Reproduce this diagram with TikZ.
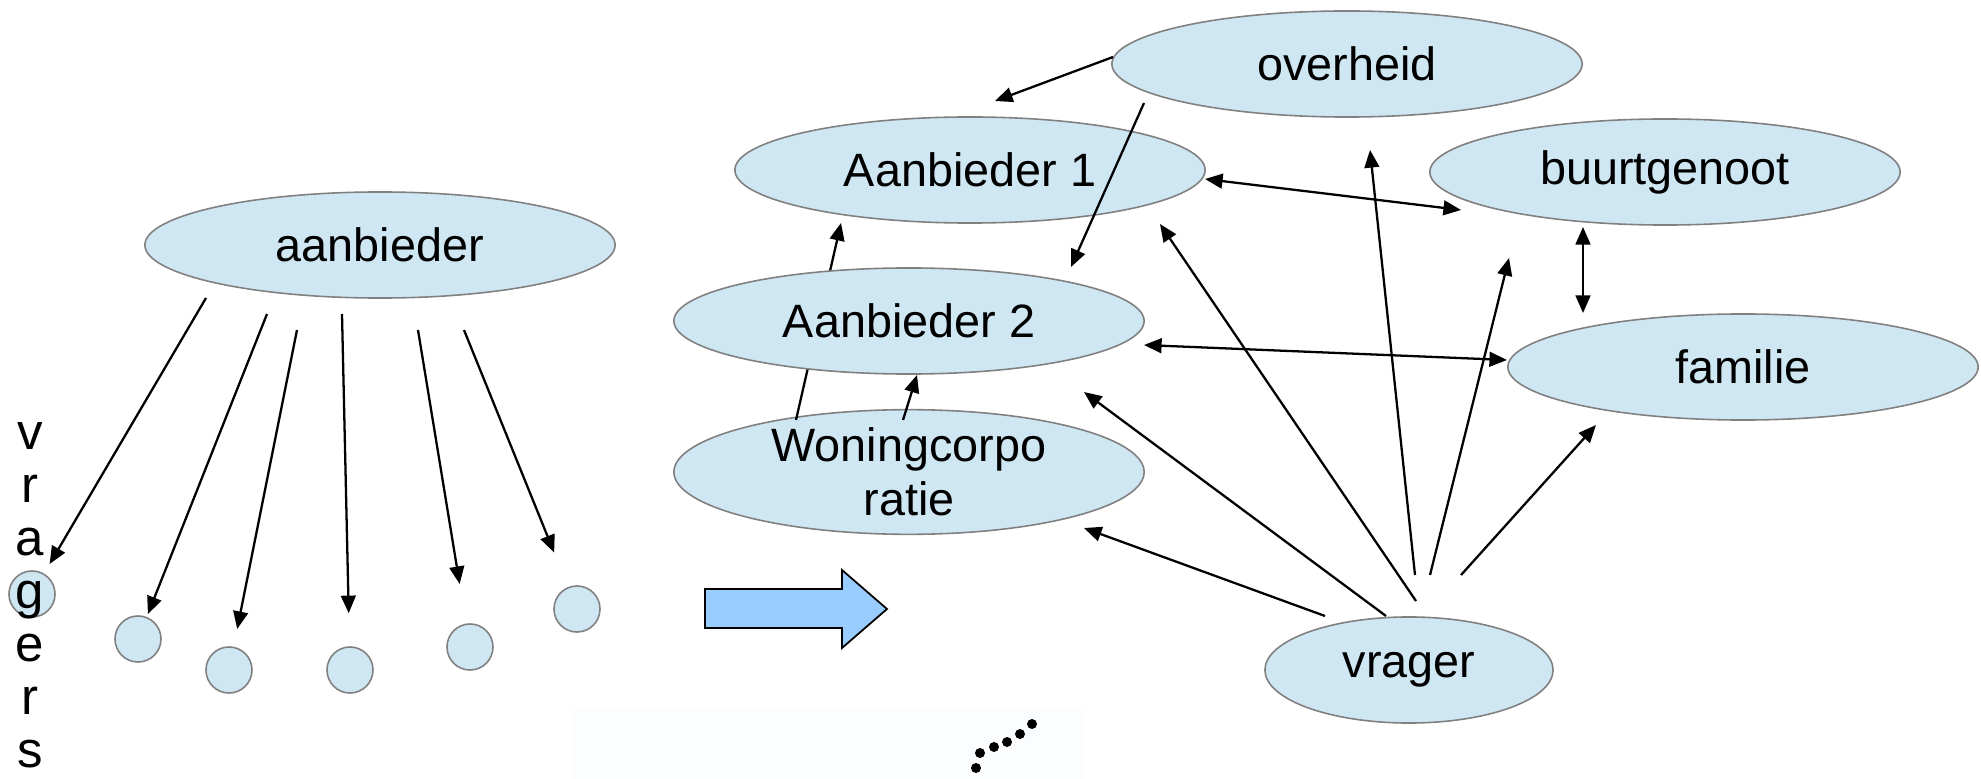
\documentclass[tikz,border=0pt]{standalone}
\usepackage{fontspec}
\setmainfont{Liberation Sans}
\usetikzlibrary{arrows.meta}
\usetikzlibrary{shapes.geometric}

\definecolor{ellipsblauw}{RGB}{207,230,243}
\definecolor{randgrijs}{RGB}{128,128,128}
\definecolor{pijlblauw}{RGB}{153,204,255}
\definecolor{vaag}{RGB}{251,253,254}

\tikzset{
    bel/.style={ellipse, draw=randgrijs, line width=0.45pt, fill=ellipsblauw,
        minimum width=4.7cm, minimum height=1.06cm, inner sep=0pt,
        font=\fontsize{13.3}{15.3}\selectfont},
    bolletje/.style={circle, draw=randgrijs, line width=0.45pt, fill=ellipsblauw,
        minimum size=0.46cm, inner sep=0pt},
    pijl/.style={-{Triangle[length=5pt,width=4.2pt]}, line width=0.65pt},
    tweepijl/.style={{Triangle[length=5pt,width=4.2pt]}-{Triangle[length=5pt,width=4.2pt]}, line width=0.65pt}
}

\begin{document}
\begin{tikzpicture}[x=0.01cm, y=-0.01cm]
    \useasboundingbox (0,0) rectangle (1981,779);

    % faint picture at the bottom
    \fill[vaag] (570,708) rectangle (1083,779);
    \foreach \x/\y in {1032/724, 1020/734, 1007/742, 994/747, 980/753, 976/768}
        \fill (\x,\y) circle (5);

    % Aanbieder with vragers (left)
    \node[bel] (aanb) at (380,245) {aanbieder};
    \foreach \x/\y [count=\i] in {32/594, 138/639, 229/670, 350/670, 470/647, 577/609}
        \node[bolletje] (c\i) at (\x,\y) {};
    \foreach \ch [count=\i] in {v,r,a,g,e,r,s}
        \node[anchor=base, inner sep=0pt, font=\fontsize{14.5}{16}\selectfont] (letter\i) at (30,{449+53*(\i-1)}) {\ch};
    \foreach \dx/\dy/\i/\g in {-174/53/1/0.11, -113/69/2/0.03, -83/85/3/0.18, -38/69/4/0.33, 38/85/5/0.40, 84/85/6/0.37}
        \draw[pijl, shorten >=\g cm] ([shift={(\dx,\dy)}]aanb.center) -- (c\i);

    % Block arrow
    \draw[line width=0.5pt, fill=pijlblauw] (705,589) -- (842,589) -- (842,570) -- (887,609)
        -- (842,648) -- (842,628) -- (705,628) -- cycle;

    % Network (right)
    \node[bel] (ov) at (1347,64) {overheid};
    \node[bel] (a1) at (970,170) {Aanbieder 1};
    \node[bel] (bg) at (1665,172) {buurtgenoot};
    \node[bel] (fam) at (1743,367) {familie};
    \node[bel, align=center] (wc) at (909,472) {Woningcorpo\\ratie};
    \node[bel, minimum width=2.88cm] (vr) at (1409,670) {vrager};
    % runs behind Aanbieder 2
    \draw[pijl] ([shift={(-113,-52)}]wc.center) -- ([shift={(-129,53)}]a1.center);
    \node[bel] (a2) at (909,321) {Aanbieder 2};

    \draw[pijl] ([shift={(-234,-7)}]ov.center) -- ([shift={(25,-69)}]a1.center);
    \draw[pijl] ([shift={(-203,39)}]ov.center) -- ([shift={(162,-54)}]a2.center);
    \draw[pijl] ([shift={(-6,-52)}]wc.center) -- ([shift={(8,54)}]a2.center);
    \draw[tweepijl] ([shift={(235,9)}]a1.center) -- ([shift={(-204,38)}]bg.center);
    \draw[tweepijl] ([shift={(235,24)}]a2.center) -- ([shift={(-236,-7)}]fam.center);
    \draw[tweepijl] ([shift={(-82,55)}]bg.center) -- ([shift={(-160,-54)}]fam.center);

    % from vrager
    \foreach \dx/\dy/\doel/\ex/\ey in {-84/-54/wc/175/56, -23/-54/a2/175/71, 7/-69/a1/190/54,
            6/-95/ov/23/86, 21/-95/bg/-156/86, 52/-95/fam/-147/58}
        \draw[pijl] ([shift={(\dx,\dy)}]vr.center) -- ([shift={(\ex,\ey)}]\doel.center);
\end{tikzpicture}
\end{document}
